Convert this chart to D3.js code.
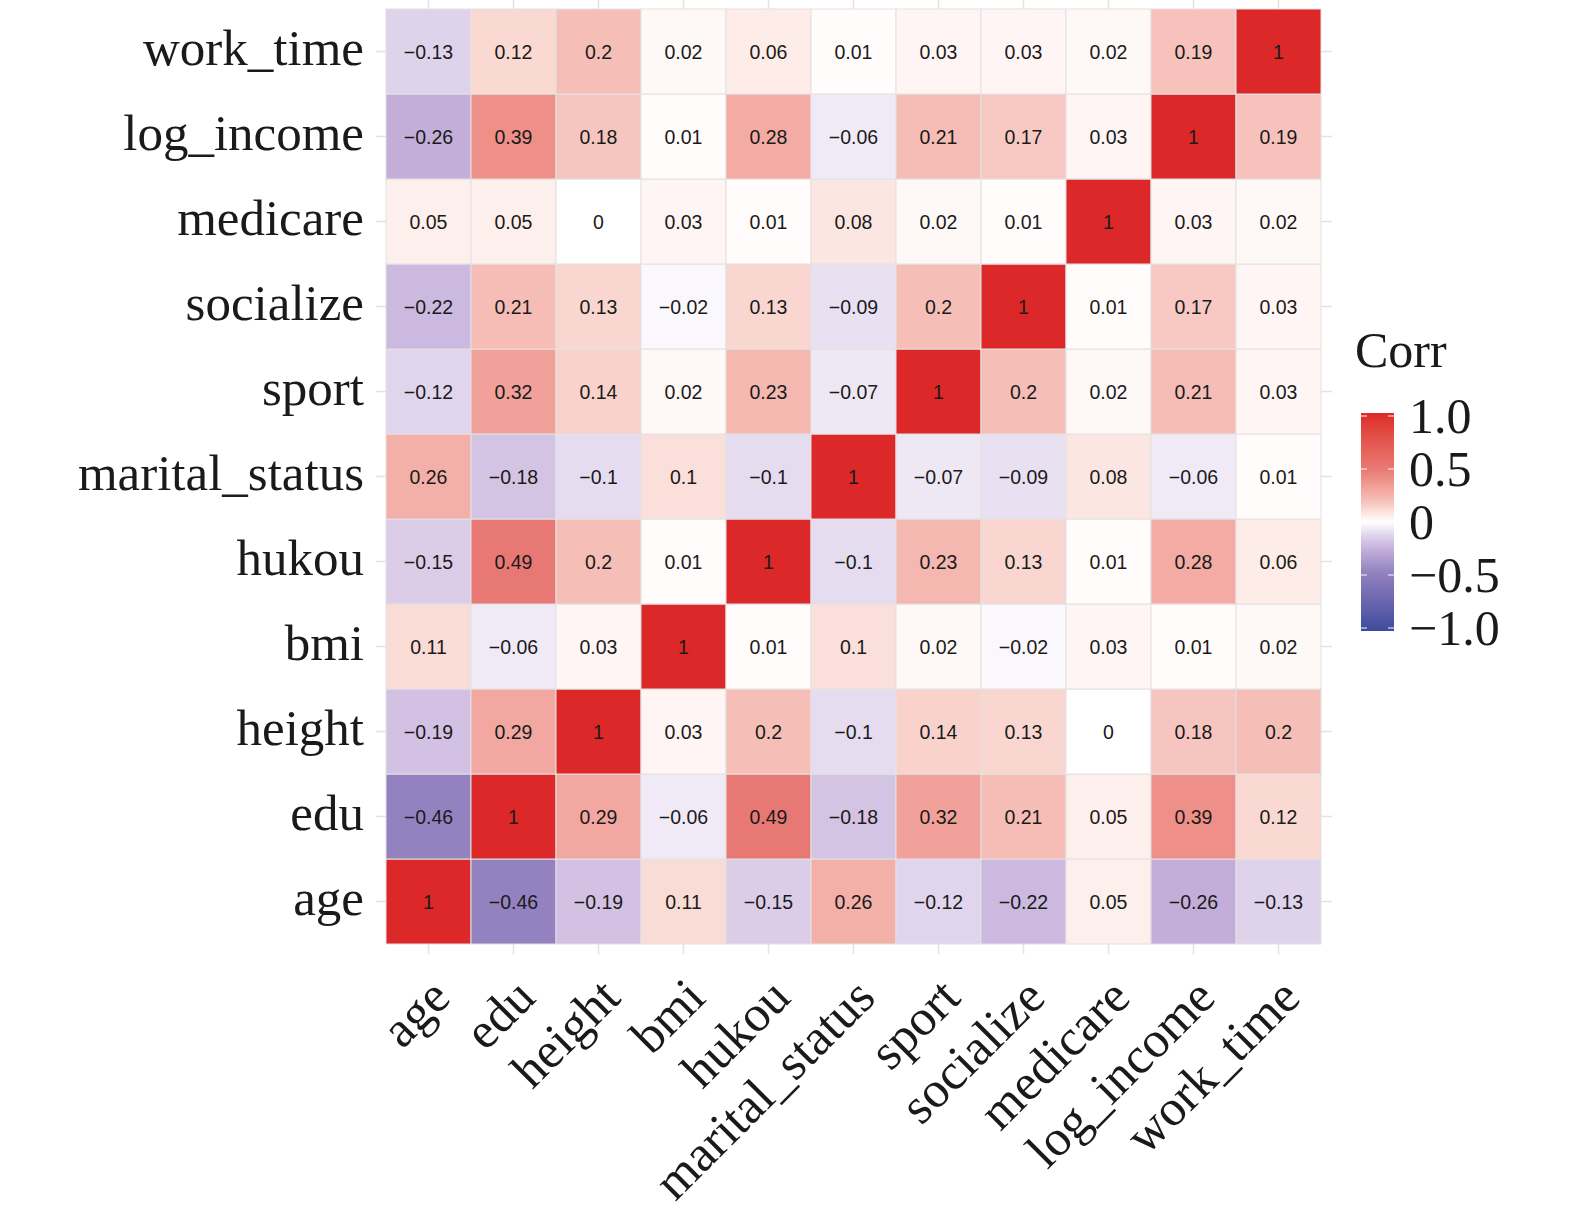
<!DOCTYPE html>
<html>
<head>
<meta charset="utf-8">
<script src="https://cdn.jsdelivr.net/npm/d3@7"></script>
<style>
  body { margin: 0; background: #fff; }
  svg { display: block; }
</style>
</head>
<body>
<div id="chart"></div>
<script>
// variables, bottom-to-top on y and left-to-right on x
const vars = ["age", "edu", "height", "bmi", "hukou", "marital_status",
  "sport", "socialize", "medicare", "log_income", "work_time"];

// correlation rows, same order as vars
const rowAge = [1, -0.46, -0.19, 0.11, -0.15, 0.26, -0.12, -0.22, 0.05, -0.26, -0.13];
const rowEdu = [-0.46, 1, 0.29, -0.06, 0.49, -0.18, 0.32, 0.21, 0.05, 0.39, 0.12];
const rowHeight = [-0.19, 0.29, 1, 0.03, 0.2, -0.1, 0.14, 0.13, 0, 0.18, 0.2];
const rowBmi = [0.11, -0.06, 0.03, 1, 0.01, 0.1, 0.02, -0.02, 0.03, 0.01, 0.02];
const rowHukou = [-0.15, 0.49, 0.2, 0.01, 1, -0.1, 0.23, 0.13, 0.01, 0.28, 0.06];
const rowMarital = [0.26, -0.18, -0.1, 0.1, -0.1, 1, -0.07, -0.09, 0.08, -0.06, 0.01];
const rowSport = [-0.12, 0.32, 0.14, 0.02, 0.23, -0.07, 1, 0.2, 0.02, 0.21, 0.03];
const rowSocialize = [-0.22, 0.21, 0.13, -0.02, 0.13, -0.09, 0.2, 1, 0.01, 0.17, 0.03];
const rowMedicare = [0.05, 0.05, 0, 0.03, 0.01, 0.08, 0.02, 0.01, 1, 0.03, 0.02];
const rowLogIncome = [-0.26, 0.39, 0.18, 0.01, 0.28, -0.06, 0.21, 0.17, 0.03, 1, 0.19];
const rowWorkTime = [-0.13, 0.12, 0.2, 0.02, 0.06, 0.01, 0.03, 0.03, 0.02, 0.19, 1];

const corrRows = [rowAge, rowEdu, rowHeight, rowBmi, rowHukou, rowMarital,
  rowSport, rowSocialize, rowMedicare, rowLogIncome, rowWorkTime];

// legend
const legendTitle = "Corr";
const legendTicks = [1, 0.5, 0, -0.5, -1];
const legendTickLabels = ["1.0", "0.5", "0", "\u22120.5", "\u22121.0"];

// colour ramp (blue - white - red)
const colorStops = [-1, -0.46, -0.26, -0.13, 0, 0.11, 0.2, 0.39, 0.49, 1];
const colorValues = ["#3b4b9e", "#9382bf", "#c2aed9", "#dfd2eb", "#ffffff",
  "#fadcd6", "#f5bfb8", "#ee8f88", "#e87873", "#dc2828"];

const width = 1575;
const height = 1215;
const cellLeft = 386, cellRight = 1321;
const cellTop = 9, cellBottom = 944;
const serif = "'Liberation Serif', 'Times New Roman', serif";
const sans = "'Liberation Sans', Arial, Helvetica, sans-serif";

const fmt = (v) => {
  const s = String(Math.round(v * 100) / 100);
  return s.replace("-", "\u2212");
};

const cells = [];
corrRows.forEach((row, i) => {
  row.forEach((v, j) => {
    cells.push({ rowVar: vars[i], colVar: vars[j], value: v });
  });
});

const x = d3.scaleBand().domain(vars).range([cellLeft, cellRight]);
const y = d3.scaleBand().domain(vars).range([cellBottom, cellTop]);
const color = d3.scaleLinear()
  .domain(colorStops)
  .range(colorValues)
  .interpolate(d3.interpolateLab)
  .clamp(true);

const svg = d3.select("#chart")
  .append("svg")
  .attr("width", width)
  .attr("height", height);

// panel grid lines (visible only outside the tiles)
const grid = svg.append("g").attr("stroke", "#e3e3e3").attr("stroke-width", 1.5);
grid.selectAll("line.v")
  .data(vars)
  .join("line")
  .attr("class", "v")
  .attr("x1", (d) => x(d) + x.bandwidth() / 2)
  .attr("x2", (d) => x(d) + x.bandwidth() / 2)
  .attr("y1", cellTop - 10)
  .attr("y2", cellBottom + 10);
grid.selectAll("line.h")
  .data(vars)
  .join("line")
  .attr("class", "h")
  .attr("y1", (d) => y(d) + y.bandwidth() / 2)
  .attr("y2", (d) => y(d) + y.bandwidth() / 2)
  .attr("x1", cellLeft - 10)
  .attr("x2", cellRight + 11);

// tiles
svg.append("g")
  .selectAll("rect")
  .data(cells)
  .join("rect")
  .attr("x", (d) => x(d.colVar))
  .attr("y", (d) => y(d.rowVar))
  .attr("width", x.bandwidth())
  .attr("height", y.bandwidth())
  .attr("fill", (d) => color(d.value))
  .attr("stroke", "#e4e1e1")
  .attr("stroke-width", 1);

// values
svg.append("g")
  .selectAll("text")
  .data(cells)
  .join("text")
  .attr("x", (d) => x(d.colVar) + x.bandwidth() / 2)
  .attr("y", (d) => y(d.rowVar) + y.bandwidth() / 2)
  .attr("dy", "0.36em")
  .attr("text-anchor", "middle")
  .attr("font-family", sans)
  .attr("font-size", 19.5)
  .attr("fill", "#1a1a1a")
  .text((d) => fmt(d.value));

// y axis labels
svg.append("g")
  .selectAll("text")
  .data(vars)
  .join("text")
  .attr("x", 364)
  .attr("y", (d) => y(d) + y.bandwidth() / 2)
  .attr("dy", "0.27em")
  .attr("text-anchor", "end")
  .attr("font-family", serif)
  .attr("font-size", 51)
  .attr("fill", "#1a1a1a")
  .text((d) => d);

// x axis labels, rotated 45 degrees
svg.append("g")
  .selectAll("text")
  .data(vars)
  .join("text")
  .attr("transform", (d) => `translate(${x(d) + x.bandwidth() / 2 + 24},1000) rotate(-45)`)
  .attr("text-anchor", "end")
  .attr("font-family", serif)
  .attr("font-size", 51)
  .attr("fill", "#1a1a1a")
  .text((d) => d);

// legend
const barX = 1361, barW = 33;
const legendY = d3.scaleLinear().domain([-1, 1]).range([628, 416]);

svg.append("text")
  .attr("x", 1355)
  .attr("y", 367)
  .attr("font-family", serif)
  .attr("font-size", 50)
  .attr("fill", "#1a1a1a")
  .text(legendTitle);

const defs = svg.append("defs");
const grad = defs.append("linearGradient")
  .attr("id", "corrGrad")
  .attr("x1", 0).attr("x2", 0)
  .attr("y1", 1).attr("y2", 0);
grad.selectAll("stop")
  .data(d3.range(0, 1.0001, 0.02))
  .join("stop")
  .attr("offset", (t) => t)
  .attr("stop-color", (t) => color(-1 + 2 * t));

svg.append("rect")
  .attr("x", barX)
  .attr("y", legendY(1) - 3)
  .attr("width", barW)
  .attr("height", legendY(-1) - legendY(1) + 6)
  .attr("fill", "url(#corrGrad)");

const tickG = svg.append("g").attr("stroke", "#ffffff").attr("stroke-width", 1.2).attr("opacity", 0.8);
tickG.selectAll("line.l")
  .data(legendTicks)
  .join("line")
  .attr("x1", barX).attr("x2", barX + 6)
  .attr("y1", (d) => legendY(d)).attr("y2", (d) => legendY(d));
tickG.selectAll("line.r")
  .data(legendTicks)
  .join("line")
  .attr("x1", barX + barW - 6).attr("x2", barX + barW)
  .attr("y1", (d) => legendY(d)).attr("y2", (d) => legendY(d));

svg.append("g")
  .selectAll("text")
  .data(legendTicks)
  .join("text")
  .attr("x", 1409)
  .attr("y", (d) => legendY(d))
  .attr("dy", "0.34em")
  .attr("font-family", serif)
  .attr("font-size", 50)
  .attr("fill", "#1a1a1a")
  .text((d, i) => legendTickLabels[i]);
</script>
</body>
</html>
